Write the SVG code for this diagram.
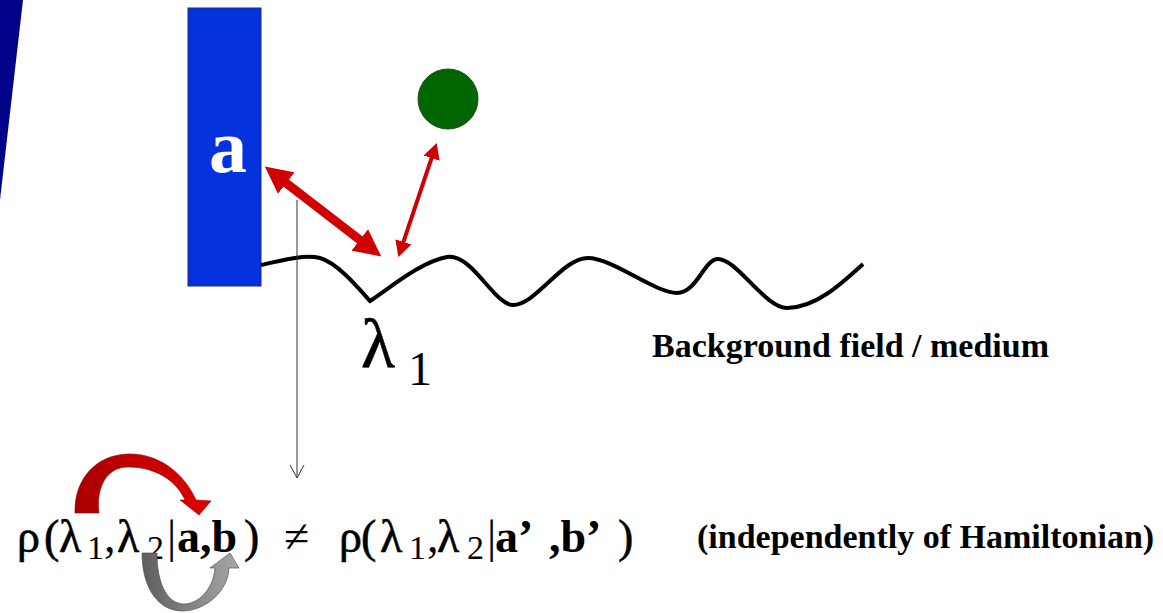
<svg xmlns="http://www.w3.org/2000/svg" width="1163" height="613" viewBox="0 0 1163 613">
<style>
.serif{font-family:"Liberation Serif","Times New Roman",serif;fill:#000}
.b{font-weight:bold}
.eq{font-size:46px}
.g{stroke:#000;stroke-width:0.6}
.eq .sub{font-size:34px}
.lbl{font-size:34px;font-weight:bold}
.red{stroke:#d10000;fill:none}
</style>
<defs>
<marker id="headBig" viewBox="0 -14 28 28" markerWidth="28" markerHeight="28" refX="1" refY="0" orient="auto-start-reverse" markerUnits="userSpaceOnUse">
<path d="M0,-13.5 L27,0 L0,13.5 Z" fill="#d10000"/>
</marker>
<marker id="headSmall" viewBox="0 -9 17 18" markerWidth="17" markerHeight="18" refX="1" refY="0" orient="auto-start-reverse" markerUnits="userSpaceOnUse">
<path d="M0,-8.5 L16,0 L0,8.5 Z" fill="#d10000"/>
</marker>
<linearGradient id="gRed" x1="0" y1="0" x2="1" y2="0">
<stop offset="0" stop-color="#a80000"/>
<stop offset="1" stop-color="#e00000"/>
</linearGradient>
<linearGradient id="gGray" x1="0" y1="0" x2="1" y2="0">
<stop offset="0" stop-color="#5e5e5e"/>
<stop offset="1" stop-color="#a8a8a8"/>
</linearGradient>
</defs>
<rect width="1163" height="613" fill="#fff"/>
<polygon id="wedge" points="0,0 23,0 0,200" fill="#03038a"/>

<g id="node-a">
<rect x="188" y="8" width="73" height="278" fill="#0433de" stroke="#1b2a80" stroke-width="1"/>
<text class="serif b" x="228" y="172" font-size="76" text-anchor="middle" style="fill:#fff">a</text>
</g>

<g id="node-particle">
<circle cx="448" cy="99" r="30" fill="#006600" stroke="#1e4a1e" stroke-width="1"/>
</g>

<g id="node-field">
<path d="M261,265 C280,261 303,254 320,258 C337,263 356,285 370,301 C390,288 420,262 447,257 C472,253 494,305 513,305 C536,305 562,258 588,258 C612,258 655,293 677,293 C697,293 704,259 718,259 C737,259 765,308 787,308 C815,308 840,285 863,264" fill="none" stroke="#000" stroke-width="4" stroke-linejoin="miter"/>
<text class="serif g" x="361" y="367" font-size="70">λ</text>
<text class="serif" x="408" y="385" font-size="48">1</text>
<text class="serif lbl" x="652" y="357">Background field / medium</text>
</g>

<g id="node-equation">
<g class="serif eq">
<text class="g" x="17" y="552">ρ</text>
<text class="g" x="44" y="552">(</text>
<text class="g" x="59" y="552">λ</text>
<text class="sub" x="87" y="559">1</text>
<text x="104" y="552">,</text>
<text class="g" x="117" y="552">λ</text>
<text class="sub" x="147" y="559">2</text>
<text x="167" y="552">|</text>
<text class="b" x="177" y="552">a,b</text>
<text class="g" x="244" y="552">)</text>
<text x="284" y="552">≠</text>
<text class="g" x="339" y="552">ρ</text>
<text class="g" x="361" y="552">(</text>
<text class="g" x="380" y="552">λ</text>
<text class="sub" x="409" y="559">1</text>
<text x="427" y="552">,</text>
<text class="g" x="437" y="552">λ</text>
<text class="sub" x="467" y="559">2</text>
<text x="487" y="552">|</text>
<text class="b" x="495" y="552">a’</text>
<text class="b" x="549" y="552">,b’</text>
<text class="g" x="618" y="552">)</text>
</g>
<text class="serif lbl" x="697" y="548">(independently of Hamiltonian)</text>
</g>

<g id="connectors">
<line class="red" x1="285.4" y1="182.5" x2="360.6" y2="240.5" stroke-width="9" marker-start="url(#headBig)" marker-end="url(#headBig)"/>
<line class="red" x1="431.9" y1="157.2" x2="403.1" y2="242.8" stroke-width="4" marker-start="url(#headSmall)" marker-end="url(#headSmall)"/>
<line x1="297" y1="200" x2="297" y2="477" stroke="#333" stroke-width="1"/>
<polyline points="290,465 297,478 304,465" fill="none" stroke="#333" stroke-width="1"/>
<path d="M75,513 C74,480 95,455 128,454 C160,453 185,475 196,500 L211,501 L199,515 L180,500 L185,500 C176,480 155,467 128,467 C105,467 96,490 99,513 Z" fill="url(#gRed)" stroke="#8a0000" stroke-width="0.6"/>
<path d="M142,553 C142,590 160,611 182,611 C205,611 228,592 229,568 L239,568 L230,553 L210,568 L215,568 C213,590 198,604 184,604 C168,604 157,585 157,553 Z" fill="url(#gGray)" stroke="#444" stroke-width="0.6"/>
</g>
</svg>
